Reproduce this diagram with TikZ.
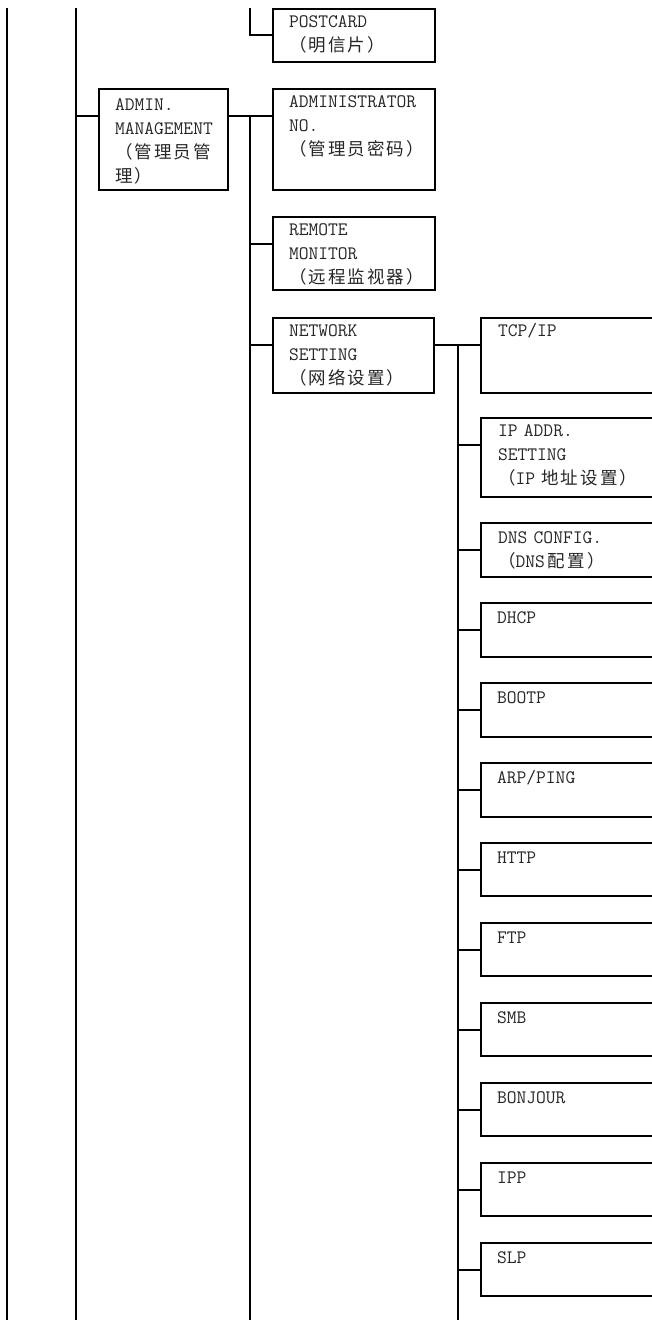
\documentclass[tikz,border=0pt]{standalone}
\usepackage{fontspec}
\newfontfamily\cjk[LetterSpace=12]{Noto Sans CJK SC}
\newcommand\zhtext[1]{{\cjk\fontsize{17.5}{24}\selectfont #1}}
\begin{document}
\begin{tikzpicture}[x=1pt,y=-1pt,line width=1.8pt,
  box/.style={draw, rectangle, anchor=north west, inner sep=0pt, outer sep=0pt, minimum width=162pt},
  wbox/.style={box, minimum width=200pt},
  lbl/.style={anchor=base west, inner sep=0pt, outer sep=0pt, text width=160pt, align=left,
              text=black!85, font=\ttfamily\fontsize{19}{24}\selectfont}]
\useasboundingbox (0,0) rectangle (652,1320);
\clip (0,0) rectangle (652,1320);

% boxes
\node[box, minimum height=53pt] (post) at (273,9) {};
\node[box, minimum width=129pt, minimum height=101pt] (admin) at (99,89) {};
\node[box, minimum height=101pt] (adminno) at (273,89) {};
\node[box, minimum height=73pt] (remote) at (273,217) {};
\node[box, minimum width=161pt, minimum height=75pt] (network) at (273,318) {};
\node[wbox, minimum height=75pt] (tcp) at (481,318) {};
\node[wbox, minimum height=79pt] (ipaddr) at (481,418) {};
\node[wbox, minimum height=54pt] (dns) at (481,523) {};
\node[wbox, minimum height=54pt] (dhcp) at (481,603) {};
\node[wbox, minimum height=54pt] (bootp) at (481,683) {};
\node[wbox, minimum height=54pt] (arp) at (481,763) {};
\node[wbox, minimum height=53pt] (http) at (481,843) {};
\node[wbox, minimum height=53pt] (ftp) at (481,923) {};
\node[wbox, minimum height=53pt] (smb) at (481,1003) {};
\node[wbox, minimum height=53pt] (bonjour) at (481,1083) {};
\node[wbox, minimum height=53pt] (ipp) at (481,1163) {};
\node[wbox, minimum height=53pt] (slp) at (481,1243) {};

% labels
\node[lbl] (postT) at ([xshift=16pt,yshift=-18pt]post.north west) {POSTCARD\\\zhtext{（明信片）}};
\node[lbl] (adminT) at ([xshift=16pt,yshift=-21pt]admin.north west) {ADMIN.\\MANAGEMENT\\\zhtext{（管理员管}\\\zhtext{理）}};
\node[lbl] (adminnoT) at ([xshift=16pt,yshift=-18.5pt]adminno.north west) {ADMINISTRATOR\\NO.\\\zhtext{（管理员密码）}};
\node[lbl] (remoteT) at ([xshift=16pt,yshift=-18pt]remote.north west) {REMOTE\\MONITOR\\\zhtext{（远程监视器）}};
\node[lbl] (networkT) at ([xshift=16pt,yshift=-18pt]network.north west) {NETWORK\\SETTING\\\zhtext{（网络设置）}};
\node[lbl] (tcpT) at ([xshift=17pt,yshift=-18pt]tcp.north west) {TCP/IP};
\node[lbl] (ipaddrT) at ([xshift=17pt,yshift=-18.5pt]ipaddr.north west) {IP ADDR.\\SETTING\\\zhtext{（}IP \zhtext{地址设置）}};
\node[lbl] (dnsT) at ([xshift=17pt,yshift=-20pt]dns.north west) {DNS CONFIG.\\\zhtext{（}DNS\hspace{3pt}\zhtext{配置）}};
\node[lbl] (dhcpT) at ([xshift=16pt,yshift=-20pt]dhcp.north west) {DHCP};
\node[lbl] (bootpT) at ([xshift=16pt,yshift=-20pt]bootp.north west) {BOOTP};
\node[lbl] (arpT) at ([xshift=16pt,yshift=-20pt]arp.north west) {ARP/PING};
\node[lbl] (httpT) at ([xshift=16pt,yshift=-20pt]http.north west) {HTTP};
\node[lbl] (ftpT) at ([xshift=16pt,yshift=-20pt]ftp.north west) {FTP};
\node[lbl] (smbT) at ([xshift=16pt,yshift=-20pt]smb.north west) {SMB};
\node[lbl] (bonjourT) at ([xshift=16pt,yshift=-20pt]bonjour.north west) {BONJOUR};
\node[lbl] (ippT) at ([xshift=16pt,yshift=-20pt]ipp.north west) {IPP};
\node[lbl] (slpT) at ([xshift=16pt,yshift=-20pt]slp.north west) {SLP};

% connection points
\coordinate (postC) at ([yshift=-26pt]post.north west);
\foreach \n in {admin,adminno,remote,network,tcp,ipaddr,dns,dhcp,bootp,arp,http,ftp,smb,bonjour,ipp,slp}
  \coordinate (\n C) at ([yshift=-27pt]\n.north west);

% trunks
\coordinate (aTop) at (7,8);   \coordinate (aBot) at (7,1320);
\coordinate (bTop) at (76,8);  \coordinate (bBot) at (76,1320);
\coordinate (cTop) at (250,8); \coordinate (cBot) at (250,1320);
\coordinate (dBot) at (458,1320);

\draw (aTop) -- (aBot);
\draw (bTop) -- (bBot);
\draw (cTop) |- (postC);
\draw (bTop |- adminC) -- (adminC);
\draw (admin.east |- adminC) -- (adminnoC);
\draw (cTop |- adminC) -- (cBot);
\draw (cTop |- remoteC) -- (remoteC);
\draw (cTop |- networkC) -- (networkC);
\draw (network.east |- networkC) -- (tcpC);
\draw (dBot |- networkC) -- (dBot);
\foreach \n in {ipaddr,dns,dhcp,bootp,arp,http,ftp,smb,bonjour,ipp,slp}
  \draw (dBot |- \n C) -- (\n C);
\end{tikzpicture}
\end{document}
